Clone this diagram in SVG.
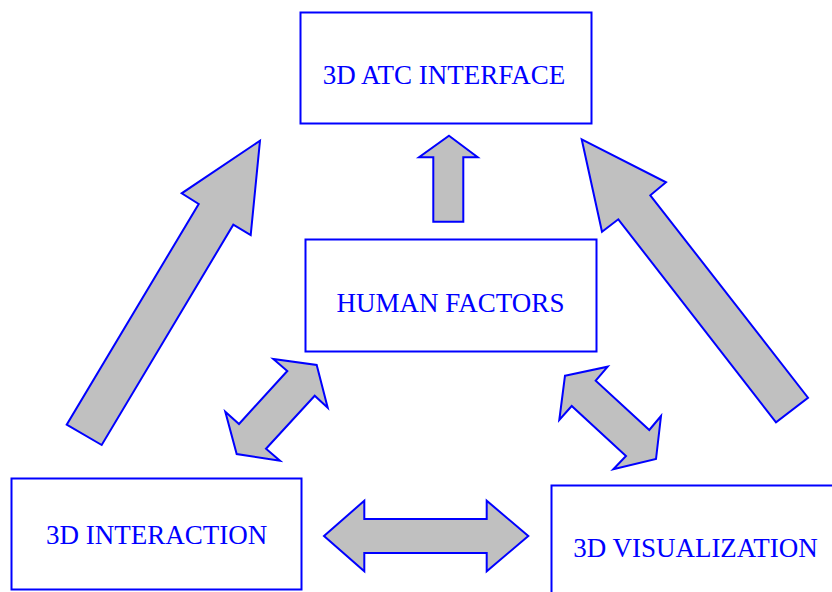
<svg xmlns="http://www.w3.org/2000/svg" width="832" height="592" viewBox="0 0 832 592">
<style>
.box{fill:#ffffff;stroke:#0000ff;stroke-width:2}
.lbl{font-family:"Liberation Serif","Times New Roman",serif;font-size:27px;fill:#0000ff;text-anchor:middle}
.arr{fill:#c0c0c0;stroke:#0000ff;stroke-width:2;stroke-linejoin:miter}
</style>
<rect width="832" height="592" fill="#ffffff"/>
<g id="node-atc">
<rect class="box" x="300.5" y="12.5" width="291" height="111"/>
<text class="lbl" x="444" y="84">3D ATC INTERFACE</text>
</g>
<g id="node-hf">
<rect class="box" x="305.5" y="239.5" width="291" height="112"/>
<text class="lbl" x="450.5" y="311.5">HUMAN FACTORS</text>
</g>
<g id="node-interaction">
<rect class="box" x="11.5" y="478.5" width="290" height="111"/>
<text class="lbl" x="156.7" y="544">3D INTERACTION</text>
</g>
<g id="node-visualization">
<rect class="box" x="551.5" y="485.5" width="290" height="112"/>
<text class="lbl" x="695.5" y="556.5">3D VISUALIZATION</text>
</g>
<g id="connectors">
<polygon class="arr" points="260,140.7 250.7,235 233.3,224.7 101.7,445 66.7,424.7 198.7,204 181.7,193.3"/>
<polygon class="arr" points="581.7,139.3 666,182.3 650.3,195.3 808,397.7 776,422.3 618.3,219.3 602,231.7"/>
<polygon class="arr" points="449,135.7 477.7,157.3 463.3,157.3 463.3,221.7 433.3,221.7 433.3,157.3 419,157.3"/>
<polygon class="arr" points="316.7,365 327.7,407.7 314.7,395.7 266,448.7 280,460.7 236.7,454 225.3,411.7 239,424 287.3,371 273.3,359"/>
<polygon class="arr" points="565,375.7 607.7,366.7 595.7,380.7 649.3,430 661,416 656,459 613.3,469.3 626,456 571.7,406 559.3,420"/>
<polygon class="arr" points="324,536 364.3,500.7 364.3,519 486.7,519 486.7,500.7 528.3,536 486.7,571.3 486.7,553 364.3,553 364.3,571.3"/>
</g>
</svg>
